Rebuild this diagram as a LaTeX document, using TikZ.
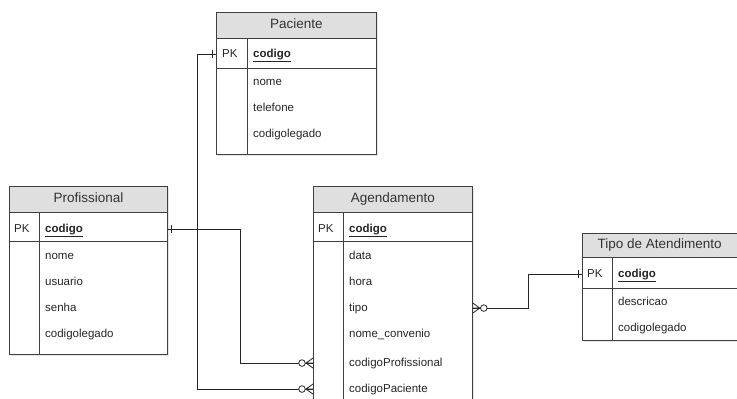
\documentclass[tikz,border=0pt]{standalone}
\usepackage{fontspec}
\setmainfont{Liberation Sans}
\usetikzlibrary{shadows}
\tikzstyle{table} = [draw=black!75, fill=white, line width=0.8pt, anchor=north west,
                 inner sep=0pt, drop shadow={shadow xshift=1.5pt, shadow yshift=-1.5pt, opacity=0.2}]
\tikzstyle{head} = [draw=black!75, fill=gray!25, line width=0.8pt, anchor=north west,
                 inner sep=0pt, text height=9.7pt, text depth=2.8pt,
                 font=\fontsize{13.5}{16}\selectfont, text=black!80]
\tikzstyle{field} = [anchor=base west, inner sep=0pt, text height=8.3pt, text depth=2.4pt,
                 font=\fontsize{11.5}{14}\selectfont, text=black!85]
\tikzstyle{key} = [field, font=\fontsize{11.5}{14}\selectfont\bfseries]
\tikzstyle{rule} = [draw=black!75, line width=0.8pt]
\tikzstyle{link} = [draw=black!85, line width=0.8pt]
\tikzset{zeromany/.pic={
    \draw [link] (-7,0) -- (0,5) (-7,0) -- (0,-5) (-7,0) -- (0,0);
    \draw [link, fill=white] (-11,0) circle (3.3);},
  onemark/.pic={\draw [link] (-4,-4) -- (-4,4);}}

\begin{document}
\begin{tikzpicture}[x=1pt, y=-1pt]

\fill [white] (0,0) rectangle (737,399);
\useasboundingbox (0,0) rectangle (737,399);
\clip (0,0) rectangle (737,399);

% Paciente
\node [table, minimum width=160pt, minimum height=142pt] (pac) at (216,12) {};
\node [head, minimum width=160pt, minimum height=26pt] (pachead) at (216,12) {Paciente};
\path [rule] (216,68) -- (376,68) (247,38) -- (247,154);
\node [field] (pacpk) at (222,57) {PK};
\node [key] (paccod) at (253,57) {\underline{codigo}};
\foreach \y/\name/\label in {85/pacnome/nome, 111/pactel/telefone, 137/painleg/codigolegado}
	\node [field] (\name) at (253,\y) {\label};

% Profissional
\node [table, minimum width=158pt, minimum height=168pt] (pro) at (9,186) {};
\node [head, minimum width=158pt, minimum height=26pt] (prohead) at (9,186) {Profissional};
\path [rule] (9,241) -- (167,241) (39,212) -- (39,354);
\node [field] (propk) at (14,232) {PK};
\node [key] (procod) at (45,232) {\underline{codigo}};
\foreach \y/\name/\label in {259/pronome/nome, 285/prousr/usuario, 311/prosenha/senha, 337/proleg/codigolegado}
	\node [field] (\name) at (45,\y) {\label};

% Agendamento
\node [table, minimum width=159pt, minimum height=240pt] (ag) at (313,186) {};
\node [head, minimum width=159pt, minimum height=26pt] (aghead) at (313,186) {Agendamento};
\path [rule] (313,241) -- (472,241) (343,212) -- (343,426);
\node [field] (agpk) at (318,232) {PK};
\node [key] (agcod) at (349,232) {\underline{codigo}};
\foreach \y/\name/\label in {259/agdata/data, 285/aghora/hora, 311/agtipo/tipo, 337/agconv/nome\_convenio,
                            366/agprof/codigoProfissional, 392/agpac/codigoPaciente}
	\node [field] (\name) at (349,\y) {\label};

% Tipo de Atendimento
\node [table, minimum width=154.5pt, minimum height=107pt] (tip) at (582,233) {};
\node [head, minimum width=154.5pt, minimum height=24pt] (tiphead) at (582,233) {Tipo de Atendimento};
\path [rule] (582,288) -- (736.5,288) (612,257) -- (612,340);
\node [field] (tippk) at (587,277) {PK};
\node [key] (tipcod) at (618,277) {\underline{codigo}};
\foreach \y/\name/\label in {305/tipdesc/descricao, 331/tipleg/codigolegado}
	\node [field] (\name) at (618,\y) {\label};

% relacoes
\path [link] (pac.west |- pacpk) -- ++(-19,0) |- (ag.west |- agpac);
\path [link] (pro.east |- propk) -- ++(73,0) |- (ag.west |- agprof);
\path [link] (ag.east |- agtipo) -- ++(56,0) |- (tip.west |- tippk);

\pic at (pac.west |- pacpk) {onemark};
\pic [rotate=180] at (pro.east |- propk) {onemark};
\pic at (tip.west |- tippk) {onemark};
\pic at (ag.west |- agpac) {zeromany};
\pic at (ag.west |- agprof) {zeromany};
\pic [rotate=180] at (ag.east |- agtipo) {zeromany};

\end{tikzpicture}
\end{document}
